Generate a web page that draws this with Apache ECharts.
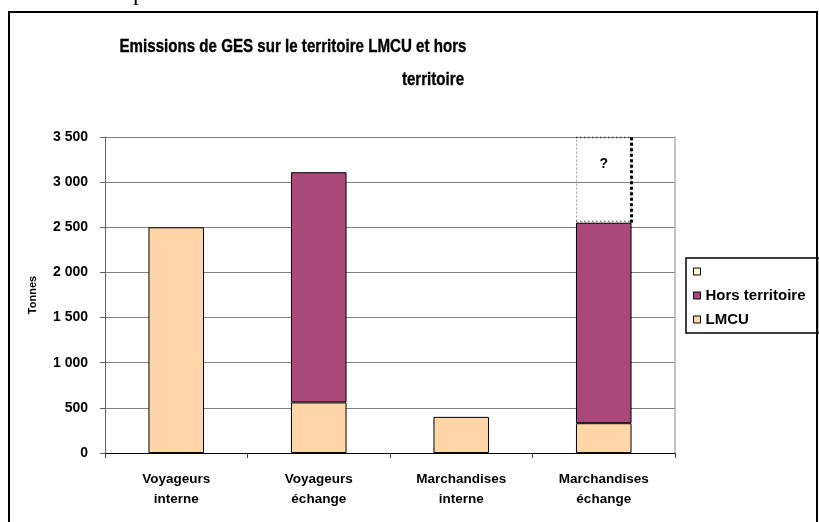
<!DOCTYPE html>
<html>
<head>
<meta charset="utf-8">
<script src="https://cdn.jsdelivr.net/npm/echarts@6/dist/echarts.min.js"></script>
<style>
  html, body { margin: 0; padding: 0; background: #fff; }
  #chart { width: 819px; height: 522px; }
</style>
</head>
<body>
<div id="chart"></div>
<script>
// Emissions de GES (tonnes), par type de flux
const categories = ['Voyageurs\ninterne', 'Voyageurs\néchange', 'Marchandises\ninterne', 'Marchandises\néchange'];
const lmcu = [2500, 560, 400, 330];
const horsTerritoire = [0, 2550, 0, 2220];
const inconnu = [0, 0, 0, 950];        // part non estimée, signalée par « ? »
const yTicks = { min: 0, max: 3500, step: 500 };
const titleLines = ['Emissions de GES sur le territoire LMCU et hors', 'territoire'];

const FONT = '"Liberation Sans", Arial, sans-serif';
const BAR_WIDTH = 0.39;   // share of each category band

const chart = echarts.init(document.getElementById('chart'), null, { renderer: 'canvas' });

const fmt = v => String(v).replace(/\B(?=(\d{3})+(?!\d))/g, '\u00a0');
const orNull = arr => arr.map(v => (v ? v : null));

// dotted outline of the unknown segment (base and top from the stacked values)
const unknownEdge = inconnu
  .map((v, i) => (v ? [i, lmcu[i] + horsTerritoire[i], lmcu[i] + horsTerritoire[i] + v] : null))
  .filter(Boolean);

const titleStyle = { fontFamily: FONT, fontSize: 18, fontWeight: 'bold', fill: '#000', stroke: '#000', lineWidth: 0.35, align: 'center', verticalAlign: 'middle' };

chart.setOption({
  backgroundColor: '#ffffff',
  animation: false,
  textStyle: { fontFamily: FONT },
  grid: { left: 105, right: 144, top: 137, bottom: 69, containLabel: false },
  legend: {
    orient: 'vertical',
    left: 686, top: 258,
    data: [
      { name: ' ', itemStyle: { color: '#FFFFCC', borderColor: '#000', borderWidth: 1, borderType: 'solid' } },
      { name: 'Hors territoire' },
      { name: 'LMCU' }
    ],
    icon: 'rect',
    itemWidth: 7, itemHeight: 7, itemGap: 9,
    backgroundColor: '#fff',
    borderColor: '#000', borderWidth: 1.5,
    padding: [6, 14, 6, 7],
    selectedMode: false,
    textStyle: { fontFamily: FONT, fontSize: 15, fontWeight: 'bold', color: '#000' },
    itemStyle: { borderColor: '#000', borderWidth: 1 }
  },
  xAxis: {
    type: 'category',
    data: categories,
    axisLine: { lineStyle: { color: '#000', width: 1 } },
    axisTick: { show: true, length: 5, lineStyle: { color: '#404040' } },
    axisLabel: { fontFamily: FONT, fontSize: 13.5, fontWeight: 'bold', color: '#000', lineHeight: 20, margin: 16 },
    splitLine: { show: false }
  },
  yAxis: [
    {
      type: 'value',
      min: yTicks.min, max: yTicks.max, interval: yTicks.step,
      name: 'Tonnes',
      nameLocation: 'middle',
      nameRotate: 90,
      nameGap: 67,
      nameTextStyle: { fontFamily: FONT, fontSize: 11, fontWeight: 'bold', color: '#000' },
      axisLine: { show: true, lineStyle: { color: '#606060', width: 1 } },
      axisTick: { show: true, length: 5, lineStyle: { color: '#606060' } },
      axisLabel: { fontFamily: FONT, fontSize: 14, fontWeight: 'bold', color: '#000', margin: 17, formatter: fmt },
      splitLine: { show: true, lineStyle: { color: '#808080', width: 1 } }
    },
    {
      type: 'value',
      position: 'right',
      min: yTicks.min, max: yTicks.max, interval: yTicks.step,
      axisLine: { show: true, lineStyle: { color: '#b0b0b0', width: 1.5 } },
      axisTick: { show: false },
      axisLabel: { show: false },
      splitLine: { show: false }
    }
  ],
  series: [
    {
      name: 'LMCU',
      type: 'bar',
      stack: 'total',
      barWidth: (BAR_WIDTH * 100) + '%',
      data: orNull(lmcu),
      itemStyle: { color: '#FFD6A8', borderColor: '#000', borderWidth: 1 }
    },
    {
      name: 'Hors territoire',
      type: 'bar',
      stack: 'total',
      data: orNull(horsTerritoire),
      itemStyle: { color: '#A8497A', borderColor: '#000', borderWidth: 1 }
    },
    {
      name: ' ',
      type: 'bar',
      stack: 'total',
      data: orNull(inconnu),
      itemStyle: { color: 'rgba(255,255,255,0)', borderColor: '#9a9a9a', borderWidth: 1, borderType: [2, 2] },
      label: {
        show: true,
        position: 'insideTop',
        distance: 20,
        formatter: '?',
        fontFamily: FONT, fontSize: 14, fontWeight: 'bold', color: '#000'
      },
      z: 3
    },
    {
      type: 'custom',
      silent: true,
      data: unknownEdge,
      encode: { x: 0, y: [1, 2] },
      z: 4,
      renderItem: (params, api) => {
        const base = api.coord([api.value(0), api.value(1)]);
        const top = api.coord([api.value(0), api.value(2)]);
        const half = api.size([1, 0])[0] * BAR_WIDTH / 2;
        const xr = base[0] + half;
        const xl = base[0] - half;
        return {
          type: 'group',
          children: [
            {
              type: 'line',
              shape: { x1: xl, y1: top[1] + 0.5, x2: xr, y2: top[1] + 0.5 },
              style: { stroke: '#333', lineWidth: 1.5, lineDash: [1.5, 2.5] }
            },
            {
              type: 'line',
              shape: { x1: xl, y1: base[1] - 1.5, x2: xr, y2: base[1] - 1.5 },
              style: { stroke: '#555', lineWidth: 1.2, lineDash: [1.5, 2.5] }
            },
            {
              type: 'line',
              shape: { x1: xr, y1: base[1], x2: xr, y2: top[1] },
              style: { stroke: '#000', lineWidth: 3, lineDash: [3, 2.5] }
            }
          ]
        };
      }
    }
  ],
  graphic: [
    {
      type: 'rect',
      silent: true,
      shape: { x: 9, y: 12, width: 808, height: 520 },
      style: { fill: 'none', stroke: '#000', lineWidth: 2 },
      z: 100
    },
    {
      type: 'text',
      silent: true,
      x: 293, y: 47, scaleX: 0.84,
      style: Object.assign({ text: titleLines[0] }, titleStyle)
    },
    {
      type: 'text',
      silent: true,
      x: 433, y: 80, scaleX: 0.84,
      style: Object.assign({ text: titleLines[1] }, titleStyle)
    },
    {
      type: 'text',
      silent: true,
      x: 133, y: -18,
      style: { text: 'p', fontFamily: '"Liberation Serif", serif', fontSize: 24, fill: '#000', align: 'left', verticalAlign: 'top' }
    }
  ]
});
</script>
</body>
</html>
